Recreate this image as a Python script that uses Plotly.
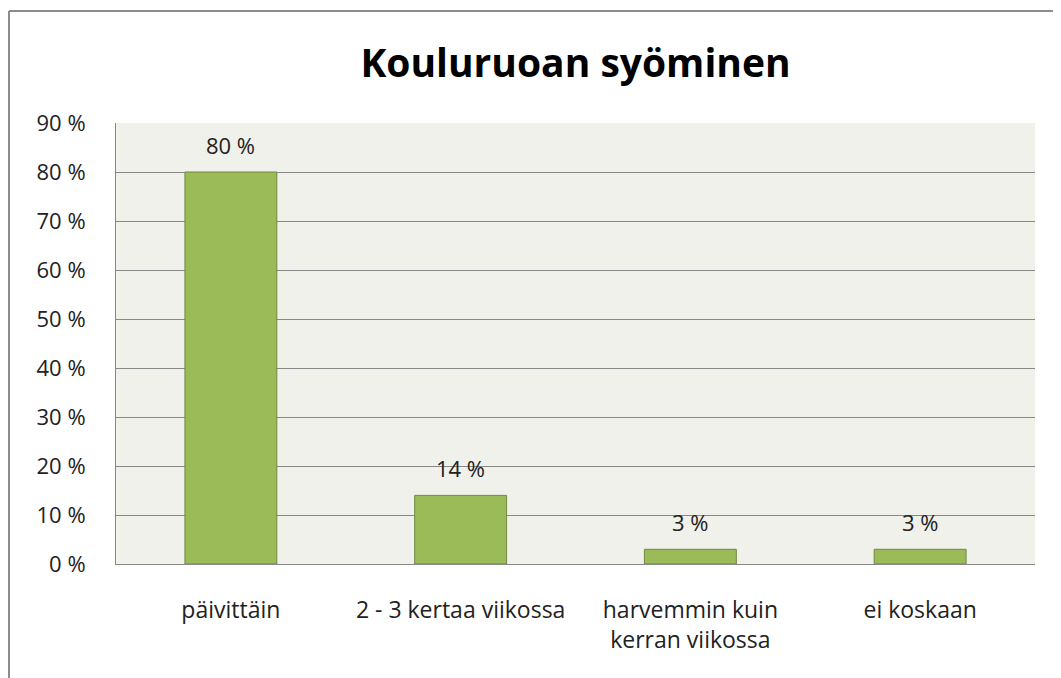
import plotly.graph_objects as go

categories = ["päivittäin", "2 - 3 kertaa viikossa", "harvemmin kuin<br>kerran viikossa", "ei koskaan"]
values = [80, 14, 3, 3]
y_ticks = [0, 10, 20, 30, 40, 50, 60, 70, 80, 90]
y_tick_labels = [f"{v} %" for v in y_ticks]
title = "Kouluruoan syöminen"

FONT = "'Open Sans', Lato, sans-serif"
OFF = 8  # page body margin

W, H = 1061 - OFF, 678 - OFF
L, T = 116 - OFF, 123 - OFF
R = 1061 - 1035
B = 678 - 564
pw, ph = W - L - R, H - T - B

fig = go.Figure()
fig.add_trace(go.Bar(
    x=categories, y=values,
    marker=dict(color="#9BBB59", line=dict(color="#71893F", width=1)),
    width=0.4,
    hoverinfo="skip",
))

for c, v in zip(categories, values):
    fig.add_annotation(x=c, y=v, text=f"{v} %", showarrow=False,
                       yanchor="bottom", yshift=10,
                       font=dict(family=FONT, size=22, color="#222222"))

bx = (9 - 116) / pw
by = 1 + (123 - 11) / ph
fig.add_shape(type="line", xref="paper", yref="paper", x0=bx, x1=1.2, y0=by, y1=by,
              line=dict(color="#8C8C8C", width=2))
fig.add_shape(type="line", xref="paper", yref="paper", x0=bx, x1=bx, y0=by, y1=-0.5,
              line=dict(color="#8C8C8C", width=2))

fig.update_layout(
    width=W, height=H,
    margin=dict(l=L, r=R, t=T, b=B),
    paper_bgcolor="white",
    plot_bgcolor="#EFF1EA",
    showlegend=False,
    title=dict(text=f"<b>{title}</b>", x=0.5, xref="paper", xanchor="center",
               y=1 - (63 - OFF) / H, yanchor="middle",
               font=dict(family=FONT, size=39, color="black")),
    font=dict(family=FONT, size=22, color="#222222"),
    bargap=0.6,
)
fig.update_xaxes(showline=True, linecolor="#888888", linewidth=1,
                 ticks="", ticklabelstandoff=25, tickfont=dict(size=23),
                 showgrid=False)
fig.update_yaxes(range=[0, 90], tickvals=y_ticks, ticktext=y_tick_labels,
                 showline=True, linecolor="#888888", linewidth=1,
                 showgrid=True, gridcolor="#888888", gridwidth=1,
                 ticks="", ticklabelstandoff=25, tickfont=dict(size=22),
                 zeroline=False)

fig.write_html("out.html")
